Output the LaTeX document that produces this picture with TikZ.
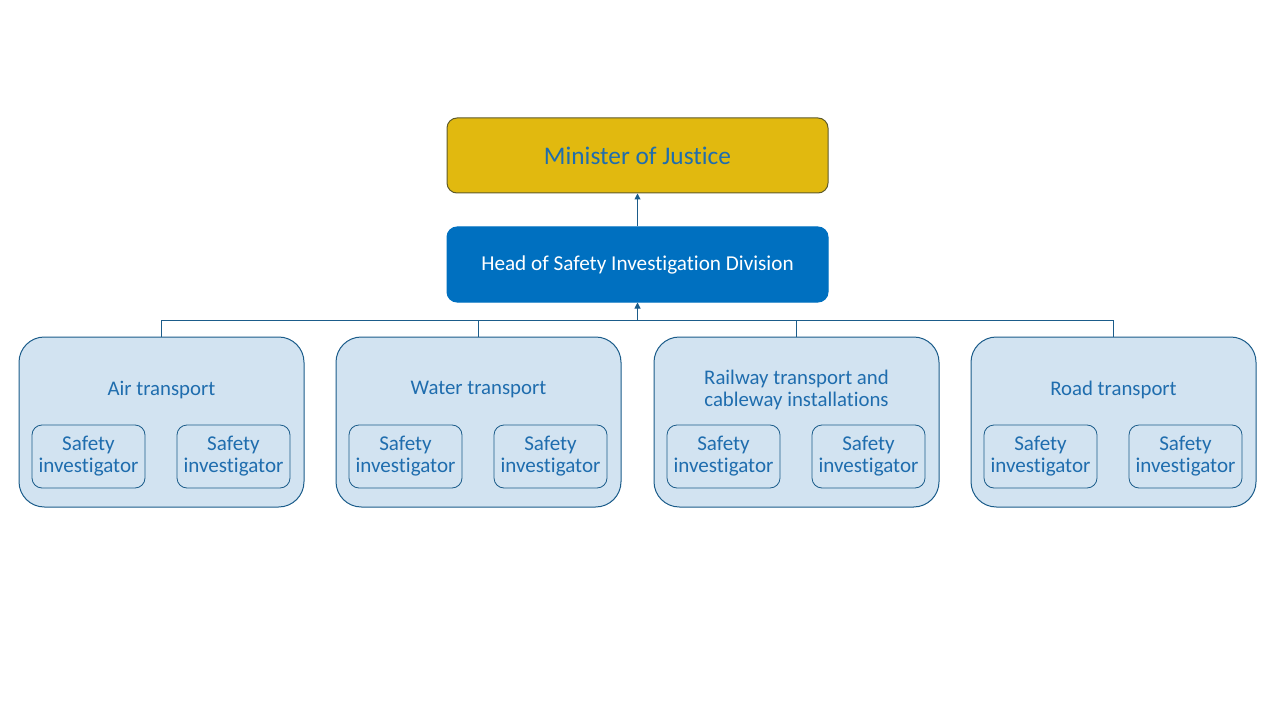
\documentclass[tikz,border=0pt]{standalone}
\usepackage{fontspec}
\setmainfont[Ligatures={NoCommon}]{Carlito}
\usepackage{xcolor}
\usetikzlibrary{arrows.meta,positioning}
\definecolor{cGold}{HTML}{E1B90F}
\definecolor{cOlive}{HTML}{5F5B2A}
\definecolor{cBlue}{HTML}{0070C0}
\definecolor{cInk}{HTML}{1F6DAE}
\definecolor{cLine}{HTML}{1B5C8A}
\definecolor{cPale}{HTML}{D2E3F1}
\tikzset{
  topbox/.style={draw=#1,rounded corners=7.5pt,line width=0.75pt,minimum width=285.75pt,minimum height=56.25pt,inner sep=0pt,align=center},
  grpbox/.style={draw=cLine,fill=cPale,rounded corners=19pt,line width=0.75pt,minimum width=213.75pt,minimum height=127.5pt,inner sep=0pt},
  invbox/.style={draw=cLine,rounded corners=7.5pt,line width=0.6pt,minimum width=84.75pt,minimum height=47.25pt,inner sep=0pt,align=center,text=cInk,font=\fontsize{15.8}{16.5}\selectfont},
  ttl/.style={align=center,text=cInk,inner sep=0pt,font=\fontsize{15.6}{16.5}\selectfont},
  link/.style={draw=cLine,line width=0.75pt},
  arr/.style={-{Triangle[length=4.5pt,width=4.5pt]},line width=0.75pt,color=cLine},
}

\begin{document}
\begin{tikzpicture}[x=0.75pt,y=-0.75pt]
    \useasboundingbox (0,0) rectangle (1280,720);
    \node[topbox=cOlive,fill=cGold,text=cInk,font=\fontsize{19}{22}\selectfont] (mini) at (637.5,155.5) {Minister of Justice};
    \node[topbox=cBlue,fill=cBlue,text=white,font=\fontsize{15.9}{16.5}\selectfont] (head) at (637.5,264.5) {Head of Safety Investigation Division};
    \coordinate (bus) at (637.5,320);
    \foreach \i/\cx/\t in {1/161.5/Air transport,2/478.5/Water transport,3/796.5/{Railway transport and\\cableway installations},4/1113.5/Road transport}{
      \node[grpbox] (grp\i) at (\cx,422) {};
      \node[ttl] (ttl\i) at (\cx,390) {\t};
      \node[invbox] (inv\i a) at (\cx-73,456.5) {Safety\\investigator};
      \node[invbox] (inv\i b) at (\cx+72,456.5) {Safety\\investigator};
      \draw[link] (grp\i.north) |- (bus);}
    \draw[arr] (bus) -- (head.south);
    \draw[arr] (head.north) -- (mini.south);
  \end{tikzpicture}
\end{document}
